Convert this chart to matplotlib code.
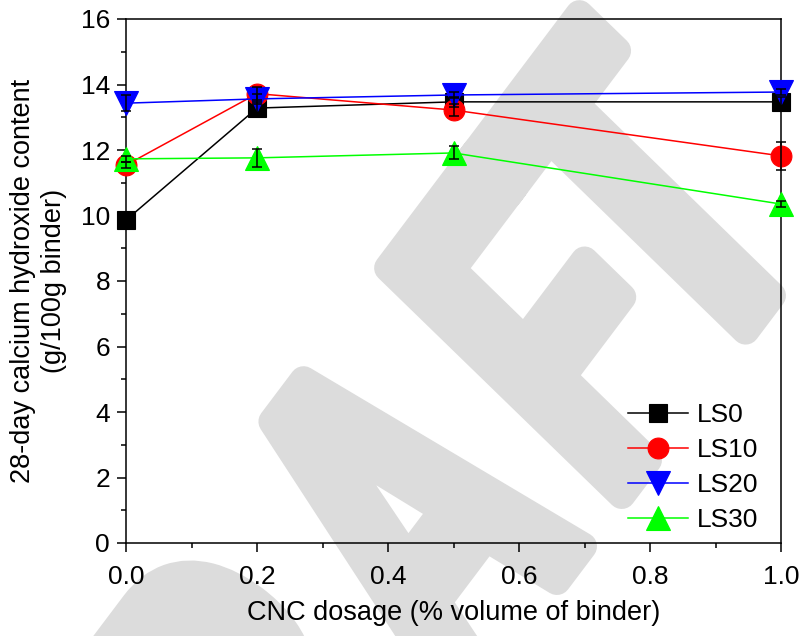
import matplotlib
matplotlib.use("Agg")
import matplotlib.pyplot as plt
from matplotlib.textpath import TextPath, text_to_path
from matplotlib.patches import PathPatch
from matplotlib.path import Path
from matplotlib.font_manager import FontProperties
from matplotlib.ticker import MultipleLocator, FormatStrFormatter
import matplotlib.transforms as mtransforms
import numpy as np

plt.rcParams['font.family'] = ['Liberation Sans', 'DejaVu Sans']

# ---- data ----
cnc_dosage = [0.0, 0.2, 0.5, 1.0]
ls0 = [9.86, 13.28, 13.47, 13.47]
ls10 = [11.54, 13.72, 13.22, 11.82]
ls20 = [13.43, 13.56, 13.68, 13.77]
ls30 = [11.73, 11.76, 11.91, 10.35]
err_ls0 = [0.10, 0.20, 0.15, 0.15]
err_ls10 = [0.10, 0.20, 0.17, 0.42]
err_ls20 = [0.25, 0.15, 0.10, 0.10]
err_ls30 = [0.10, 0.27, 0.20, 0.10]
series_names = ["LS0", "LS10", "LS20", "LS30"]
x_label = "CNC dosage (% volume of binder)"
y_label = "28-day calcium hydroxide content\n(g/100g binder)"
watermark = "DRAFT"

W, H = 801, 636
fig = plt.figure(figsize=(W / 100, H / 100), dpi=100)

# ---- watermark (behind everything) ----
wm_prop = FontProperties(family='Liberation Sans', weight='bold', style='italic', size=100)
letter_shift = [-0.30, -0.25, -0.12, 0.0, -0.10]   # per-letter spacing tweak (em)
paths = []
x0 = 0.0
starts = []
for ch, extra in zip(watermark, letter_shift):
    starts.append(x0 + extra)
    p = TextPath((x0 + extra, 0), ch, size=1, prop=wm_prop)
    paths.append(p)
    x0 += text_to_path.get_text_width_height_descent(ch, wm_prop, ismath=False)[0] / 100.0
tp = Path.make_compound_path(*paths)
vF = paths[3].vertices
topF = vF[vF[:, 1] > vF[:, 1].max() - 0.02]
corner = np.array([topF[:, 0].min(), topF[:, 1].max()])
em = 470.0
sx = 0.65
angle = 53.0
base = mtransforms.Affine2D().scale(sx * em, em).rotate_deg(angle)
cx, cy = base.transform(corner)
tr = base + mtransforms.Affine2D().translate(388 - cx, (H - 268) - cy)
wm = PathPatch(tp, transform=tr, facecolor='#dcdcdc', edgecolor='#dcdcdc',
               linewidth=20, joinstyle='round', zorder=-5)
fig.patches.append(wm)
wm.set_figure(fig)

ax = fig.add_axes([126 / W, 1 - 543 / H, (781 - 126) / W, (543 - 19) / H])
ax.set_facecolor('none')

styles = [
    dict(color='#000000', marker='s', ms=13.5),
    dict(color='#ff0000', marker='o', ms=15),
    dict(color='#0000ff', marker='v', ms=17),
    dict(color='#00ff00', marker='^', ms=17),
]
ys = [ls0, ls10, ls20, ls30]
errs = [err_ls0, err_ls10, err_ls20, err_ls30]
for name, y, st in zip(series_names, ys, styles):
    ax.plot(cnc_dosage, y, color=st['color'], marker=st['marker'], ms=st['ms'],
            mfc=st['color'], mec=st['color'], mew=0.8, lw=1.1, label=name,
            clip_on=False, zorder=3)
for y, e in zip(ys, errs):
    ax.errorbar(cnc_dosage, y, yerr=e, fmt='none', ecolor='k', elinewidth=1.1,
                capsize=3.6, capthick=1.1, clip_on=False, zorder=4)

ax.set_xlim(0, 1.0)
ax.set_ylim(0, 16)
ax.xaxis.set_major_locator(MultipleLocator(0.2))
ax.xaxis.set_minor_locator(MultipleLocator(0.1))
ax.yaxis.set_major_locator(MultipleLocator(2))
ax.yaxis.set_minor_locator(MultipleLocator(1))
ax.xaxis.set_major_formatter(FormatStrFormatter('%.1f'))
ax.tick_params(which='major', direction='out', length=6.5, width=1.1, labelsize=19)
ax.tick_params(axis='x', which='major', pad=9)
ax.tick_params(axis='y', which='major', pad=5)
ax.tick_params(which='minor', direction='out', length=3.6, width=1.1)
ax.tick_params(top=False, right=False, which='both')
for sp in ax.spines.values():
    sp.set_linewidth(1.1)

ax.set_xlabel(x_label, fontsize=19.5, labelpad=8)
ax.set_ylabel(y_label, fontsize=19.5, labelpad=10, linespacing=1.25)

leg = ax.legend(loc='upper left', bbox_to_anchor=((628 - 126) / 655, (543 - 403) / 524),
                frameon=False, fontsize=19, handlelength=2.27, handletextpad=0.34,
                labelspacing=0.42, borderpad=0, borderaxespad=0, numpoints=1)

fig.savefig("out.png", dpi=100)
